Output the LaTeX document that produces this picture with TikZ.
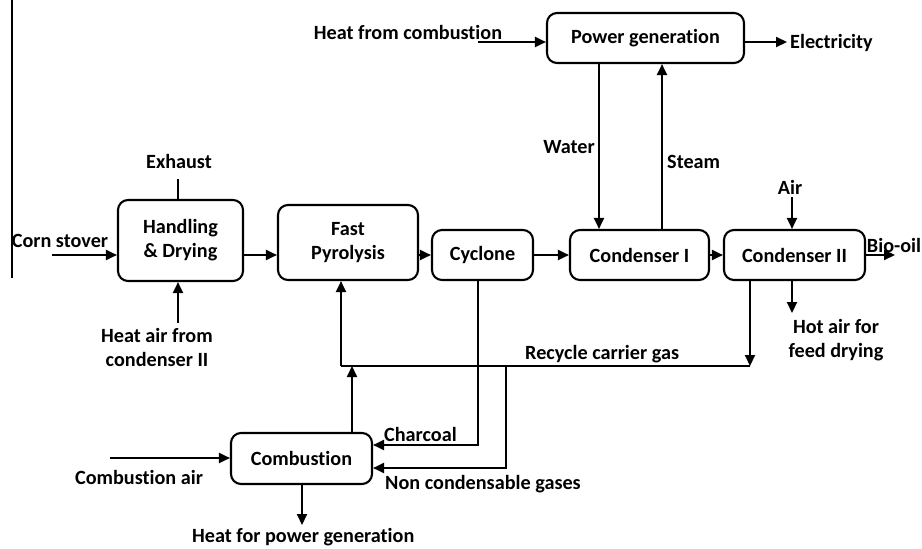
\documentclass[tikz,border=0pt]{standalone}
\usepackage{fontspec}
\setmainfont{Carlito}[Ligatures={NoCommon,NoContextual}]
\usetikzlibrary{arrows.meta}

\begin{document}
\begin{tikzpicture}[x=1pt, y=-1pt,
  font=\fontsize{20.2}{24}\selectfont\bfseries,
  box/.style={draw, line width=2.1pt, rounded corners=10pt, inner sep=0pt, align=center},
  lbl/.style={inner sep=0pt, align=center},
  flow/.style={line width=2.1pt},
  arr/.style={flow, -{Triangle[length=11pt, width=10pt]}}]

  \path[use as bounding box] (0,0) rectangle (922,549);

  % thin rule at the left edge
  \draw[line width=1.4pt] (12,0) coordinate (ruletop) -- (12,278) coordinate (rulebot);

  % process units
  \node[box, minimum width=125pt, minimum height=81pt] (hd) at (180.5,240.5) {Handling\\\& Drying};
  \node[box, minimum width=140pt, minimum height=75pt] (fp) at (348,242.5) {Fast\\Pyrolysis};
  \node[box, minimum width=101pt, minimum height=50pt] (cy) at (482.5,255) {Cyclone};
  \node[box, minimum width=139pt, minimum height=50pt] (c1) at (639.5,255) {Condenser I};
  \node[box, minimum width=141pt, minimum height=50pt] (c2) at (794.5,255) {Condenser II};
  \node[box, minimum width=197pt, minimum height=50pt] (pg) at (645.5,38) {Power generation};
  \node[box, minimum width=141pt, minimum height=51pt] (cb) at (301.5,458.5) {Combustion};

  % free ends of the streams
  \coordinate (main) at (0,255);
  \coordinate (csin) at (52,255);
  \coordinate (exh) at (178,179);
  \coordinate (hain) at (178,323);
  \coordinate (hfc) at (478,42);
  \coordinate (elec) at (787,42);
  \coordinate (wat) at (599,0);
  \coordinate (stm) at (662,0);
  \coordinate (airin) at (792,197);
  \coordinate (hotair) at (792,313);
  \coordinate (bio) at (895,255);
  \coordinate (rcR) at (750,366);
  \coordinate (rcL) at (341,366);
  \coordinate (cbup) at (352,366);
  \coordinate (charA) at (478,445);
  \coordinate (ncgA) at (506,366);
  \coordinate (ncgB) at (506,468);
  \coordinate (cair) at (110,458);
  \coordinate (hpg) at (302,525);

  % main train
  \draw[arr] (csin) -- (csin -| hd.west);
  \draw[arr] (hd.east |- main) -- (fp.west |- main);
  \draw[arr] (fp.east |- main) -- (cy.west |- main);
  \draw[arr] (cy.east |- main) -- (c1.west |- main);
  \draw[arr] (c1.east |- main) -- (c2.west |- main);
  \draw[arr] (c2.east |- main) -- (bio);

  % handling & drying streams
  \draw[flow] (hd.north -| exh) -- (exh);
  \draw[arr] (hain) -- (hd.south -| hain);

  % power generation loop
  \draw[arr] (hfc) -- (pg.west |- hfc);
  \draw[arr] (pg.east |- elec) -- (elec);
  \draw[arr] (pg.south -| wat) -- (c1.north -| wat);
  \draw[arr] (c1.north -| stm) -- (pg.south -| stm);

  % condenser II streams
  \draw[arr] (airin) -- (c2.north -| airin);
  \draw[arr] (c2.south -| hotair) -- (hotair);

  % recycle carrier gas
  \draw[arr] (c2.south -| rcR) -- (rcR);
  \draw[flow] (rcR) -- (rcL);
  \draw[arr] (rcL) -- (fp.south -| rcL);
  \draw[arr] (cb.north -| cbup) -- (cbup);

  % char and gases to combustion
  \draw[arr] (cy.south -| charA) -- (charA) -- (cb.east |- charA);
  \draw[arr] (ncgA) -- (ncgB) -- (cb.east |- ncgB);

  % combustion streams
  \draw[arr] (cair) -- (cb.west |- cair);
  \draw[arr] (cb.south -| hpg) -- (hpg);

  % stream labels
  \node[lbl] (tcs) at (60,241) {Corn stover};
  \node[lbl] (tex) at (179,161) {Exhaust};
  \node[lbl] (tha) at (157,347) {Heat air from\\condenser II};
  \node[lbl] (thc) at (408,32) {Heat from combustion};
  \node[lbl, anchor=west] (tel) at (790,43) {Electricity};
  \node[lbl, anchor=east] (twa) at (595,147) {Water};
  \node[lbl, anchor=west] (tst) at (667,162) {Steam};
  \node[lbl] (tair) at (790,187) {Air};
  \node[lbl] (tbio) at (894,245) {Bio-oil};
  \node[lbl] (thot) at (836,340) {Hot air for\\feed drying};
  \node[lbl, anchor=west] (trc) at (525,354) {Recycle carrier gas};
  \node[lbl, anchor=west] (tch) at (384,434) {Charcoal};
  \node[lbl, anchor=west] (tng) at (385,484) {Non condensable gases};
  \node[lbl] (tca) at (139,477) {Combustion air};
  \node[lbl, anchor=west] (thp) at (192,537) {Heat for power generation};
\end{tikzpicture}
\end{document}
